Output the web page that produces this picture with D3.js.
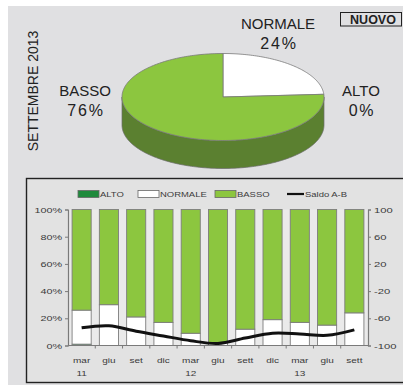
<!DOCTYPE html>
<html>
<head>
<meta charset="utf-8">
<script src="https://cdn.jsdelivr.net/npm/d3@7"></script>
<style>
  html, body { margin: 0; padding: 0; background: #ffffff; }
  svg { display: block; font-family: "Liberation Sans", Arial, sans-serif; }
</style>
</head>
<body>
<svg id="chart" width="403" height="385"></svg>
<script>
// Pie: distribution for September 2013
const pieCategories = ["ALTO", "NORMALE", "BASSO"];
const pieValues = [0, 24, 76];

// Quarterly series (percent of answers)
const quarters = ["mar", "giu", "set", "dic", "mar", "giu", "sett", "dic", "mar", "giu", "sett"];
const years = ["11", "", "", "", "12", "", "", "", "13", "", ""];
const alto = [1, 0, 0, 0, 0, 0, 0, 0, 0, 0, 0];
const normale = [25, 30, 21, 17, 9, 2, 12, 19, 17, 15, 24];
const basso = [74, 70, 79, 83, 91, 98, 88, 81, 83, 85, 76];
const saldo = [-74, -71, -79, -86, -93, -97, -89, -82, -83, -85, -77];

const leftTicks = [0, 20, 40, 60, 80, 100];
const rightTicks = [-100, -60, -20, 20, 60, 100];
const seriesNames = ["ALTO", "NORMALE", "BASSO"];
const legendNames = ["ALTO", "NORMALE", "BASSO", "Saldo A-B"];

const colors = { ALTO: "#1f8a3c", NORMALE: "#ffffff", BASSO: "#8cc63f" };
const sideColor = "#5b8030";

const svg = d3.select("#chart");

// widen a text node horizontally by a factor
function widen(sel, k) {
  sel.each(function () {
    const w = this.getComputedTextLength();
    if (w > 0) d3.select(this).attr("textLength", w * k).attr("lengthAdjust", "spacingAndGlyphs");
  });
}

// panel background
svg.append("rect").attr("x", 8).attr("y", 6).attr("width", 395).attr("height", 379).attr("fill", "#e0e0e2");

// ---------- 3D pie ----------
const pc = { cx: 223, cy: 97, rx: 101, ry: 43.5, depth: 28 };
const pieGen = d3.pie().sort(null).value(d => d)(pieValues);

function ellPt(a, dy) {
  return [pc.cx + pc.rx * Math.sin(a), pc.cy - pc.ry * Math.cos(a) + (dy || 0)];
}
function arcPts(a0, a1, dy) {
  const n = Math.max(2, Math.ceil(Math.abs(a1 - a0) / 0.02));
  return d3.range(n + 1).map(i => ellPt(a0 + (a1 - a0) * i / n, dy));
}

const pieG = svg.append("g");
// side walls (front half only: angles between PI/2 and 3PI/2)
pieGen.forEach((s, i) => {
  const a0 = Math.max(s.startAngle, Math.PI / 2);
  const a1 = Math.min(s.endAngle, 3 * Math.PI / 2);
  if (a1 <= a0) return;
  const pts = arcPts(a0, a1, 0).concat(arcPts(a1, a0, pc.depth));
  const c = pieCategories[i] === "BASSO" ? sideColor : (pieCategories[i] === "NORMALE" ? "#cfcfcf" : "#145e28");
  pieG.append("path")
    .attr("d", d3.line()(pts) + "Z")
    .attr("fill", c)
    .attr("stroke", "#6a6a6a")
    .attr("stroke-width", 0.7);
});
// top faces
pieGen.forEach((s, i) => {
  if (s.endAngle - s.startAngle <= 0) return;
  const pts = [[pc.cx, pc.cy]].concat(arcPts(s.startAngle, s.endAngle, 0));
  pieG.append("path")
    .attr("d", d3.line()(pts) + "Z")
    .attr("fill", colors[pieCategories[i]])
    .attr("stroke", "#7a7a7a")
    .attr("stroke-width", 0.8);
});

// pie labels
const pieLabelPos = { NORMALE: [278, 29], BASSO: [85, 96], ALTO: [361, 96] };
pieCategories.forEach((c, i) => {
  const p = pieLabelPos[c];
  const t = svg.append("text").attr("text-anchor", "middle").attr("fill", "#222");
  t.append("tspan").attr("x", p[0]).attr("y", p[1]).attr("font-size", 15).text(c);
  t.append("tspan").attr("x", p[0] + 1).attr("y", p[1] + 20).attr("font-size", 16)
    .attr("letter-spacing", 1.8).text(pieValues[i] + "%");
});

// period title
svg.append("text")
  .attr("transform", "translate(38,91) rotate(-90)")
  .attr("text-anchor", "middle")
  .attr("font-size", 14)
  .attr("fill", "#222")
  .text("SETTEMBRE 2013");

// NUOVO tag
svg.append("rect").attr("x", 340.5).attr("y", 12.5).attr("width", 61).attr("height", 13.5)
  .attr("fill", "none").attr("stroke", "#222").attr("stroke-width", 1);
svg.append("text").attr("x", 373).attr("y", 24).attr("text-anchor", "middle")
  .attr("font-size", 12.5).attr("font-weight", "bold").attr("fill", "#222").text("NUOVO");

// ---------- bar chart box ----------
svg.append("rect").attr("x", 26.5).attr("y", 178.5).attr("width", 380).attr("height", 204)
  .attr("fill", "#e2e2e2").attr("stroke", "#222").attr("stroke-width", 1.4);

const plot = { left: 68, right: 368, top: 209.5, bottom: 345.5 };
svg.append("rect").attr("x", plot.left).attr("y", plot.top)
  .attr("width", plot.right - plot.left).attr("height", plot.bottom - plot.top).attr("fill", "#eaeaea");

const x = d3.scaleBand().domain(d3.range(quarters.length)).range([plot.left, plot.right])
  .paddingInner(0.3).paddingOuter(0.15);
const y = d3.scaleLinear().domain([0, 100]).range([plot.bottom, plot.top]);
const y2 = d3.scaleLinear().domain([-100, 100]).range([plot.bottom, plot.top]);

const table = quarters.map((q, i) => ({ ALTO: alto[i], NORMALE: normale[i], BASSO: basso[i], i }));
const stacked = d3.stack().keys(seriesNames)(table);

const barG = svg.append("g");
stacked.forEach(layer => {
  barG.append("g").selectAll("rect").data(layer).join("rect")
    .attr("x", d => x(d.data.i))
    .attr("width", x.bandwidth())
    .attr("y", d => y(d[1]))
    .attr("height", d => Math.max(0, y(d[0]) - y(d[1])))
    .attr("fill", colors[layer.key])
    .attr("stroke", d => (d[1] - d[0]) > 0 ? "#7d7d7d" : "none")
    .attr("stroke-width", 0.9);
});

// axes
const axisColor = "#7a7a7a";
const leftAxis = svg.append("g").attr("transform", `translate(${plot.left},0)`)
  .call(d3.axisLeft(y).tickValues(leftTicks).tickFormat(d => d + "%").tickSize(3).tickPadding(3));
const rightAxis = svg.append("g").attr("transform", `translate(${plot.right},0)`)
  .call(d3.axisRight(y2).tickValues(rightTicks).tickFormat(d => String(d)).tickSize(3).tickPadding(3));
[leftAxis, rightAxis].forEach(g => {
  g.select(".domain").attr("stroke", axisColor).attr("stroke-width", 1.2);
  g.selectAll(".tick line").attr("stroke", axisColor);
  g.selectAll("text").attr("font-size", 8).attr("fill", "#3a3a3a")
    .attr("font-family", "Liberation Sans, Arial, sans-serif");
});
widen(leftAxis.selectAll("text"), 1.35);
widen(rightAxis.selectAll("text"), 1.4);

// bottom axis with ticks between bars
const xb = svg.append("g");
xb.append("line").attr("x1", plot.left).attr("x2", plot.right)
  .attr("y1", plot.bottom).attr("y2", plot.bottom).attr("stroke", axisColor).attr("stroke-width", 1.2);
xb.selectAll("line.tk").data(d3.range(1, quarters.length)).join("line").attr("class", "tk")
  .attr("x1", i => x(i) - x.step() * x.paddingInner() / 2)
  .attr("x2", i => x(i) - x.step() * x.paddingInner() / 2)
  .attr("y1", plot.bottom).attr("y2", plot.bottom + 3).attr("stroke", axisColor);
const qLab = xb.selectAll("text.q").data(quarters).join("text").attr("class", "q")
  .attr("x", (d, i) => x(i) + x.bandwidth() / 2).attr("y", 363)
  .attr("text-anchor", "middle").attr("font-size", 8).attr("fill", "#3a3a3a").text(d => d);
const yLab = xb.selectAll("text.yr").data(years).join("text").attr("class", "yr")
  .attr("x", (d, i) => x(i) + x.bandwidth() / 2).attr("y", 376)
  .attr("text-anchor", "middle").attr("font-size", 8).attr("fill", "#3a3a3a").text(d => d);
widen(qLab, 1.25);
widen(yLab, 1.25);

// Saldo A-B line
svg.append("path").datum(saldo)
  .attr("d", d3.line().x((d, i) => x(i) + x.bandwidth() / 2).y(d => y2(d)).curve(d3.curveCatmullRom))
  .attr("fill", "none").attr("stroke", "#111").attr("stroke-width", 3);

// legend
const legendX = [78, 138, 215, 287];
const legG = svg.append("g");
legendNames.forEach((n, i) => {
  const lx = legendX[i];
  if (n === "Saldo A-B") {
    legG.append("line").attr("x1", lx).attr("x2", lx + 17).attr("y1", 194).attr("y2", 194)
      .attr("stroke", "#111").attr("stroke-width", 2.2);
    legG.append("text").attr("x", lx + 18).attr("y", 196.5).attr("font-size", 7).attr("fill", "#3a3a3a").text(n);
  } else {
    legG.append("rect").attr("x", lx).attr("y", 190.5).attr("width", 21).attr("height", 7)
      .attr("fill", colors[n]).attr("stroke", "#666").attr("stroke-width", 0.8);
    legG.append("text").attr("x", lx + 22).attr("y", 196.5).attr("font-size", 7).attr("fill", "#3a3a3a").text(n);
  }
});
widen(legG.selectAll("text"), 1.35);
</script>
</body>
</html>
